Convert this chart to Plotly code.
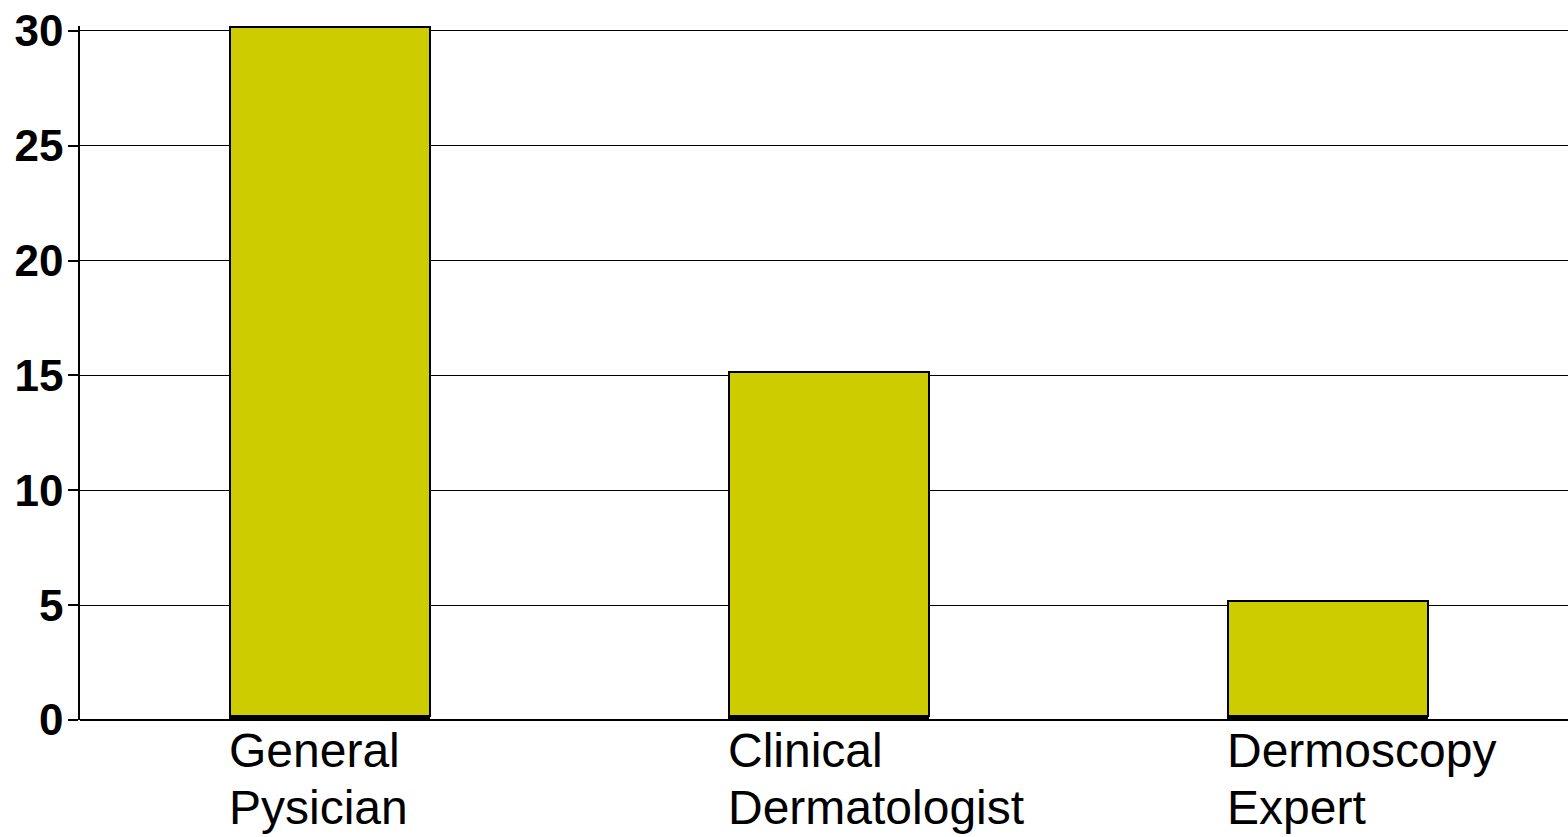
import plotly.graph_objects as go

# Survey data: counts per examiner group
categories = ["General<br>Pysician", "Clinical<br>Dermatologist", "Dermoscopy<br>Expert"]
values = [30, 15, 5]
base_strip = [0.17, 0.17, 0.17]
y_ticks = [0, 5, 10, 15, 20, 25, 30]

BAR_COLOR = "#CCCC00"
BAR_WIDTH = 0.4
FONT = "Liberation Sans, Arial, sans-serif"
LABEL_SIZE = 48
LINE_STEP = 57  # px between the two lines of a category label

idx = list(range(len(categories)))

fig = go.Figure()
# thin dark strip at the foot of each column
fig.add_trace(go.Bar(
    x=idx, y=base_strip, width=BAR_WIDTH,
    marker=dict(color="#000000", line=dict(color="#000000", width=1)),
    showlegend=False, hoverinfo="skip",
))
fig.add_trace(go.Bar(
    x=idx, y=values, width=BAR_WIDTH,
    marker=dict(color=BAR_COLOR, line=dict(color="#000000", width=2)),
    showlegend=False,
))

# category labels, left-aligned with each column's left edge, one line each
for i, lab in zip(idx, categories):
    for k, line in enumerate(lab.split("<br>")):
        fig.add_annotation(
            x=i - BAR_WIDTH / 2, y=0, xref="x", yref="y",
            text=line, showarrow=False, xanchor="left", yanchor="top",
            align="left", yshift=-2 - k * LINE_STEP, xshift=-3,
            font=dict(family=FONT, size=LABEL_SIZE, color="#000000"),
        )

fig.update_layout(
    width=1568, height=837,
    margin=dict(l=80, r=0, t=26, b=117),
    paper_bgcolor="white", plot_bgcolor="white",
    barmode="stack", bargap=0,
    xaxis=dict(
        range=[-0.501, 2.481], showticklabels=False, showgrid=False,
        zeroline=False, showline=False, ticks="", fixedrange=True,
    ),
    yaxis=dict(
        range=[0, 30.21], tickvals=y_ticks, ticktext=[str(v) for v in y_ticks],
        showgrid=True, gridcolor="#000000", gridwidth=1.3,
        zeroline=True, zerolinecolor="#000000", zerolinewidth=1.5,
        showline=True, linecolor="#000000", linewidth=1.5,
        ticks="outside", ticklen=10, tickwidth=1.5, tickcolor="#000000",
        tickfont=dict(family=FONT, size=44, color="#000000", weight="bold"),
        ticklabelstandoff=-4,
    ),
)

fig.write_html("out.html")
